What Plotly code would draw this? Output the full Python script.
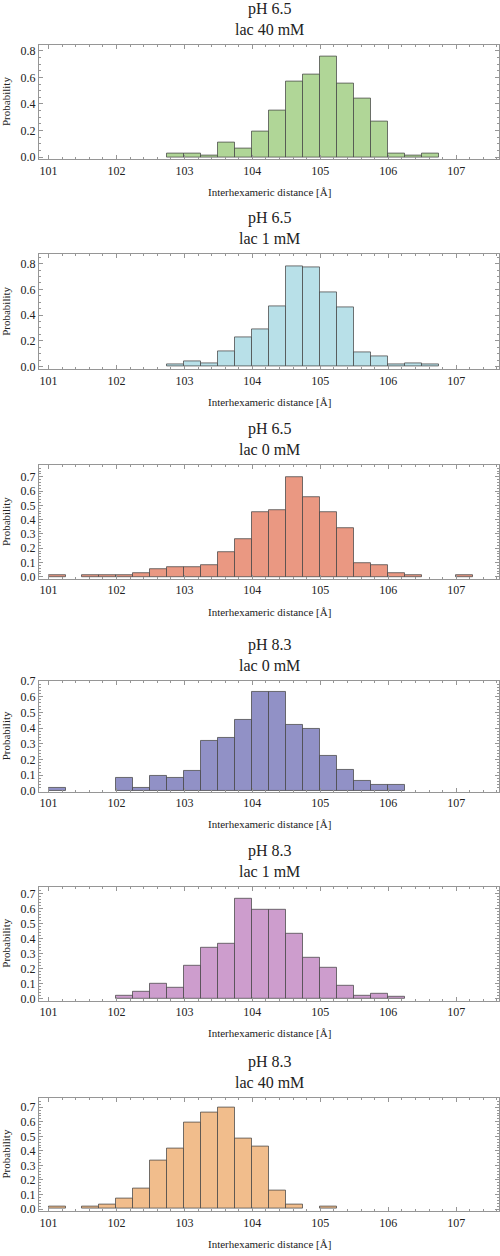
import plotly.graph_objects as go

# ---------------- data ----------------
BIN_WIDTH = 0.25
bin_edges = [101 + 0.25 * i for i in range(25)]  # left edges 101.00 ... 107.00

titles = [
    "pH 6.5<br>lac 40 mM",
    "pH 6.5<br>lac 1 mM",
    "pH 6.5<br>lac 0 mM",
    "pH 8.3<br>lac 0 mM",
    "pH 8.3<br>lac 1 mM",
    "pH 8.3<br>lac 40 mM",
]

# probabilities per bin (left edge -> height)
ph65_lac40 = [0, 0, 0, 0, 0, 0, 0, 0.03, 0.03, 0.015, 0.11, 0.067, 0.19, 0.35, 0.57,
              0.625, 0.76, 0.55, 0.44, 0.265, 0.028, 0.01, 0.025, 0, 0]
ph65_lac1 = [0, 0, 0, 0, 0, 0, 0, 0.013, 0.036, 0.023, 0.115, 0.226, 0.29, 0.464, 0.78,
             0.77, 0.577, 0.462, 0.113, 0.077, 0.013, 0.026, 0.013, 0, 0]
ph65_lac0 = [0.012, 0, 0.012, 0.012, 0.012, 0.025, 0.05, 0.067, 0.067, 0.078, 0.175, 0.26,
             0.45, 0.464, 0.697, 0.559, 0.45, 0.342, 0.092, 0.081, 0.025, 0.014, 0, 0, 0.012]
ph83_lac0 = [0.02, 0, 0, 0, 0.08, 0.02, 0.092, 0.08, 0.124, 0.319, 0.335, 0.449, 0.633,
             0.633, 0.419, 0.392, 0.222, 0.136, 0.063, 0.04, 0.04, 0, 0, 0, 0]
ph83_lac1 = [0, 0, 0, 0, 0.018, 0.044, 0.1, 0.07, 0.22, 0.34, 0.366, 0.667, 0.588, 0.588,
             0.432, 0.272, 0.204, 0.083, 0.018, 0.031, 0.015, 0, 0, 0, 0]
ph83_lac40 = [0.016, 0, 0.016, 0.03, 0.07, 0.14, 0.333, 0.415, 0.594, 0.662, 0.694, 0.485,
              0.431, 0.125, 0.03, 0, 0.016, 0, 0, 0, 0, 0, 0, 0, 0]

series = [ph65_lac40, ph65_lac1, ph65_lac0, ph83_lac0, ph83_lac1, ph83_lac40]

colors = ["rgb(176,214,151)", "rgb(184,224,232)", "rgb(234,152,130)",
          "rgb(145,145,198)", "rgb(205,157,205)", "rgb(241,189,140)"]

# ---------------- layout geometry (pixels) ----------------
W, H = 500, 1256
frames = [(38, 154), (250, 366), (463, 578), (681, 793), (889, 1004), (1102, 1217)]
yranges = [(-0.017, 0.847), (-0.021, 0.872), (-0.016, 0.781),
           (-0.006, 0.700), (-0.013, 0.744), (-0.016, 0.766)]
ydticks = [0.2, 0.2, 0.1, 0.1, 0.1, 0.1]
yminor = [0.05, 0.05, 0.02, 0.02, 0.02, 0.02]
x0px, x1px = 39, 499
xrange_ = [100.86, 107.63]

FONT = "Liberation Serif"
FRAME = "rgb(150,150,150)"

fig = go.Figure()
annotations = []
for i, (vals, col) in enumerate(zip(series, colors)):
    n = i + 1
    xa = "x" if n == 1 else f"x{n}"
    ya = "y" if n == 1 else f"y{n}"
    centers = [e + BIN_WIDTH / 2 for e, v in zip(bin_edges, vals) if v > 0]
    heights = [v for v in vals if v > 0]
    fig.add_trace(go.Bar(
        x=centers, y=heights, width=BIN_WIDTH, xaxis=xa, yaxis=ya,
        marker=dict(color=col, line=dict(color="rgba(70,70,70,0.75)", width=1)),
        showlegend=False,
    ))
    top, bot = frames[i]
    dom_y = [1 - bot / H, 1 - top / H]
    dom_x = [x0px / W, x1px / W]
    sfx = "" if n == 1 else str(n)
    fig.update_layout(**{
        f"xaxis{sfx}": dict(
            domain=dom_x, anchor=ya, range=xrange_,
            tickmode="linear", tick0=101, dtick=1,
            ticks="inside", ticklen=4, tickcolor=FRAME,
            minor=dict(dtick=0.2, ticks="inside", ticklen=2, tickcolor=FRAME),
            showline=True, linecolor=FRAME, linewidth=1, mirror="ticks",
            showgrid=False, zeroline=False,
            tickfont=dict(family=FONT, size=12, color="#222"),
        ),
        f"yaxis{sfx}": dict(
            domain=dom_y, anchor=xa, range=list(yranges[i]),
            tickmode="linear", tick0=0, dtick=ydticks[i], tickformat=".1f",
            ticks="inside", ticklen=4, tickcolor=FRAME,
            minor=dict(dtick=yminor[i], ticks="inside", ticklen=2, tickcolor=FRAME),
            showline=True, linecolor=FRAME, linewidth=1, mirror="ticks",
            showgrid=False, zeroline=False,
            tickfont=dict(family=FONT, size=12, color="#222"),
        ),
    })
    # panel title
    annotations.append(dict(
        text=titles[i], x=(x0px + x1px) / 2 / W, y=1 - (top - 5) / H,
        xref="paper", yref="paper", xanchor="center", yanchor="bottom",
        showarrow=False, font=dict(family=FONT, size=16, color="#222"),
    ))
    # y title
    annotations.append(dict(
        text="Probability", x=6 / W, y=1 - (top + bot) / 2 / H,
        xref="paper", yref="paper", xanchor="center", yanchor="middle",
        textangle=-90, showarrow=False, font=dict(family=FONT, size=11, color="#222"),
    ))
    # x title
    annotations.append(dict(
        text="Interhexameric distance [Å]", x=(x0px + x1px) / 2 / W, y=1 - (bot + 33) / H,
        xref="paper", yref="paper", xanchor="center", yanchor="middle",
        showarrow=False, font=dict(family=FONT, size=11, color="#222"),
    ))

fig.update_layout(
    width=W, height=H, margin=dict(l=0, r=0, t=0, b=0),
    paper_bgcolor="white", plot_bgcolor="white",
    annotations=annotations, bargap=0,
)

fig.write_html("out.html", config={"displayModeBar": False},
               post_script="document.body.style.margin='0';document.body.style.overflow='hidden';")
